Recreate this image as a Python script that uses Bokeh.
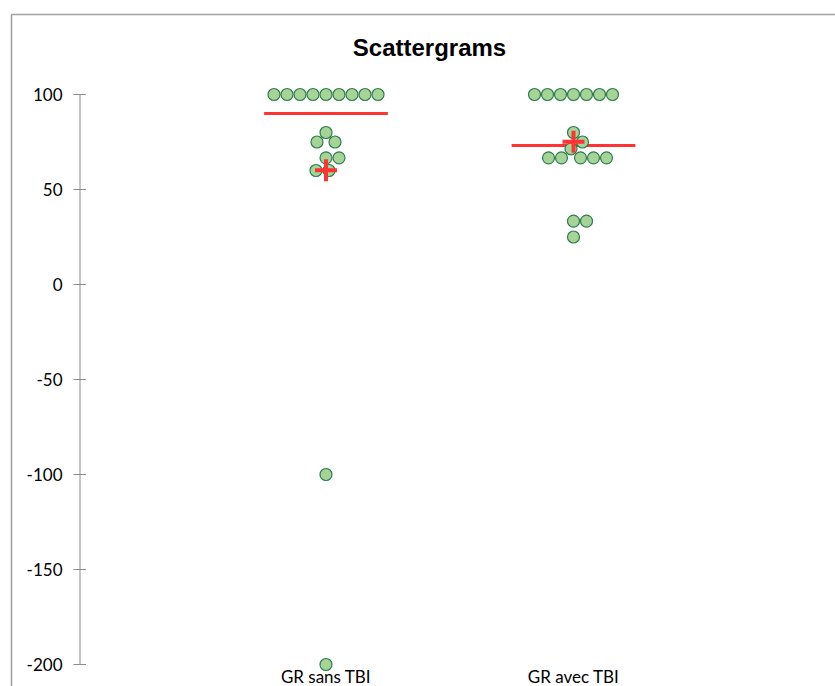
import numpy as np
from bokeh.plotting import figure
from bokeh.models import Range1d
from bokeh.core.properties import value
from bokeh.embed import file_html
from bokeh.resources import INLINE

# ---------------- data ----------------
title_text = "Scattergrams"
categories = ["GR sans TBI", "GR avec TBI"]
gr_sans_tbi = [100, 100, 100, 100, 100, 100, 100, 100, 100,
               80, 75, 75, 66.67, 66.67, 60, 60, -100, -200]
gr_avec_tbi = [100, 100, 100, 100, 100, 100, 100,
               80, 75, 71.43, 66.67, 66.67, 66.67, 66.67, 66.67,
               33.33, 33.33, 25]
y_ticks = [100, 50, 0, -50, -100, -150, -200]
y_tick_labels = ["100", "50", "0", "-50", "-100", "-150", "-200"]

# ---------------- layout (pixel geometry) ----------------
W, H = 835, 686
CANVAS_LEFT, CANVAS_TOP = 0, 0
PX_PER_X = 247.5          # pixels per category unit
PX_PER_Y = 1.9            # pixels per y unit
X_LO = 1 - (325.5 - CANVAS_LEFT) / PX_PER_X
Y_HI = 100 + (94 - CANVAS_TOP) / PX_PER_Y
X_HI = X_LO + W / PX_PER_X
Y_LO = Y_HI - H / PX_PER_Y


def px2x(px):
    return X_LO + (px - CANVAS_LEFT) / PX_PER_X


def py2y(py):
    return Y_HI - (py - CANVAS_TOP) / PX_PER_Y


def swarm(vals, d=13.0, step=0.5):
    """simple beeswarm: horizontal pixel offsets so markers don't overlap"""
    placed, offs = [], []
    for v in vals:
        y = v * PX_PER_Y
        k = 0
        found = None
        while found is None:
            cands = [0.0] if k == 0 else [k * step, -k * step]
            for c in cands:
                if all((c - px) ** 2 + (y - py) ** 2 >= d * d for px, py in placed):
                    found = c
                    break
            k += 1
        placed.append((found, y))
        offs.append(found)
    return np.array(offs) / PX_PER_X


p = figure(width=W, height=H, output_backend="svg", toolbar_location=None,
           x_range=Range1d(X_LO, X_HI), y_range=Range1d(Y_LO, Y_HI),
           x_axis_location=None, y_axis_location=None,
           min_border=0, outline_line_color=None)
p.grid.visible = False
p.background_fill_color = "white"
p.border_fill_color = "white"

# chart area border (left + top)
bx = px2x(11)
by = py2y(14)
p.line([bx, bx, X_HI + 0.2], [Y_LO - 5, by, by], line_color="#a0a0a0", line_width=1.5)

# y axis line and tick marks
ax = px2x(79.5)
p.segment(x0=[ax], y0=[min(y_ticks)], x1=[ax], y1=[max(y_ticks)],
          line_color="#8c8c8c", line_width=1)
p.segment(x0=[px2x(73)] * len(y_ticks), y0=y_ticks,
          x1=[px2x(85.5)] * len(y_ticks), y1=y_ticks,
          line_color="#8c8c8c", line_width=1)
p.text(x=[px2x(62)] * len(y_ticks), y=y_ticks, text=y_tick_labels,
       text_align="right", text_baseline="middle",
       text_font=value("Lato"), text_font_size="17px", text_color="#000000")

# category labels
cat_x = [1, 2]
p.text(x=cat_x, y=[py2y(676)] * 2, text=categories, text_align="center",
       text_baseline="middle", text_font=value("Lato"),
       text_font_size="17px", text_color="#000000")

# title
p.text(x=[px2x(429)], y=[py2y(47)], text=[title_text], text_align="center",
       text_baseline="middle", text_font=value("Liberation Sans"),
       text_font_style="bold", text_font_size="24px", text_color="#000000")

RED = "#ff3333"
groups = [gr_sans_tbi, gr_avec_tbi]

# medians
for cx, g in zip(cat_x, groups):
    med = float(np.median(g))
    p.segment(x0=[cx - 0.25], y0=[med], x1=[cx + 0.25], y1=[med],
              line_color=RED, line_width=3)

# points
for cx, g in zip(cat_x, groups):
    xs = cx + swarm(g)
    p.scatter(x=xs, y=g, marker="circle", size=12,
              fill_color="#a6d497", line_color="#2e7d4f", line_width=1.2)

# means
for cx, g in zip(cat_x, groups):
    p.scatter(x=[cx], y=[float(np.mean(g))], marker="cross", size=22,
              line_color=RED, line_width=4)

open("out.html", "w").write(file_html(p, INLINE))
